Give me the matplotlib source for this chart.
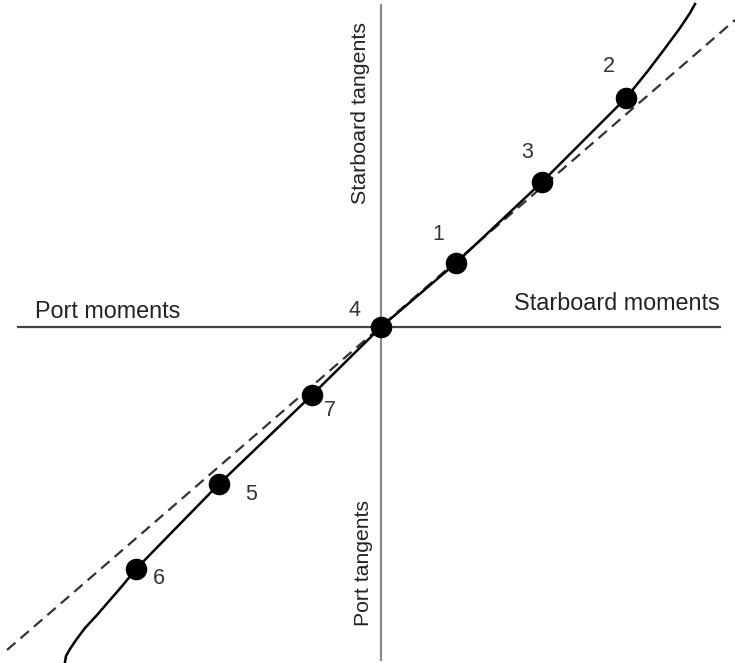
import matplotlib.pyplot as plt

# points d'équilibre numérotés (moment, tangente)
labels = ["4", "1", "3", "2", "7", "5", "6"]
moments = [0.0, 0.75, 1.61, 2.45, -0.69, -1.62, -2.45]
tangents = [0.0, 0.64, 1.45, 2.29, -0.68, -1.57, -2.42]

# décalage des étiquettes (pixels)
label_dx = [-27, -18, -15, -17, 18, 32, 23]
label_dy = [16, 29, 30, 31, -16, -10, -9]

# courbe mesurée
curve_x = [-3.16, -3.15, -3.11, -3.05, -2.96, -2.84, -2.71, -2.58,
           -2.45, -1.62, -0.69, 0.0, 0.75, 1.61, 2.45,
           2.66, 2.82, 2.99, 3.09, 3.14]
curve_y = [-3.35, -3.29, -3.22, -3.13, -3.01, -2.88, -2.73, -2.58,
           -2.42, -1.57, -0.68, 0.0, 0.64, 1.45, 2.29,
           2.55, 2.76, 2.99, 3.14, 3.23]

# droite théorique (pointillés)
line_x = [-3.74, 3.54]
line_y = [-3.23, 3.07]

fig = plt.figure(figsize=(7.35, 6.63), dpi=100)
ax = fig.add_axes([0, 0, 1, 1])
ax.set_xlim(-3.81, 3.54)
ax.set_ylim(-3.36, 3.27)
ax.axis("off")

# axes en croix
ax.plot([-3.63, 3.39], [0, 0], color="#444444", lw=1.6, zorder=1)
ax.plot([0, 0], [-3.33, 3.22], color="#8a8a8a", lw=1.6, zorder=1)

ax.plot(line_x, line_y, color="#333333", lw=1.6, ls=(0, (5, 3)), zorder=2)
ax.plot(curve_x, curve_y, color="black", lw=1.8, zorder=3,
        solid_joinstyle="round")
ax.plot(moments, tangents, "o", color="black", ms=14.5, zorder=4)

for lab, x, y, dx, dy in zip(labels, moments, tangents, label_dx, label_dy):
    ax.annotate(lab, (x, y), xytext=(dx, dy), textcoords="offset pixels",
                ha="center", va="center", fontsize=15.5, color="#333333",
                family="Liberation Sans")

txt = dict(color="#222222", family="Liberation Sans")
ax.text(-3.46, 0.16, "Port moments", ha="left", va="center",
        fontsize=16.8, **txt)
ax.text(3.39, 0.23, "Starboard moments", ha="right", va="center",
        fontsize=16.8, **txt)
ax.text(-0.21, 2.14, "Starboard tangents", ha="center", va="center",
        rotation=90, fontsize=15.4, **txt)
ax.text(-0.18, -2.36, "Port tangents", ha="center", va="center",
        rotation=90, fontsize=15.2, **txt)

fig.savefig("out.png", dpi=100)
